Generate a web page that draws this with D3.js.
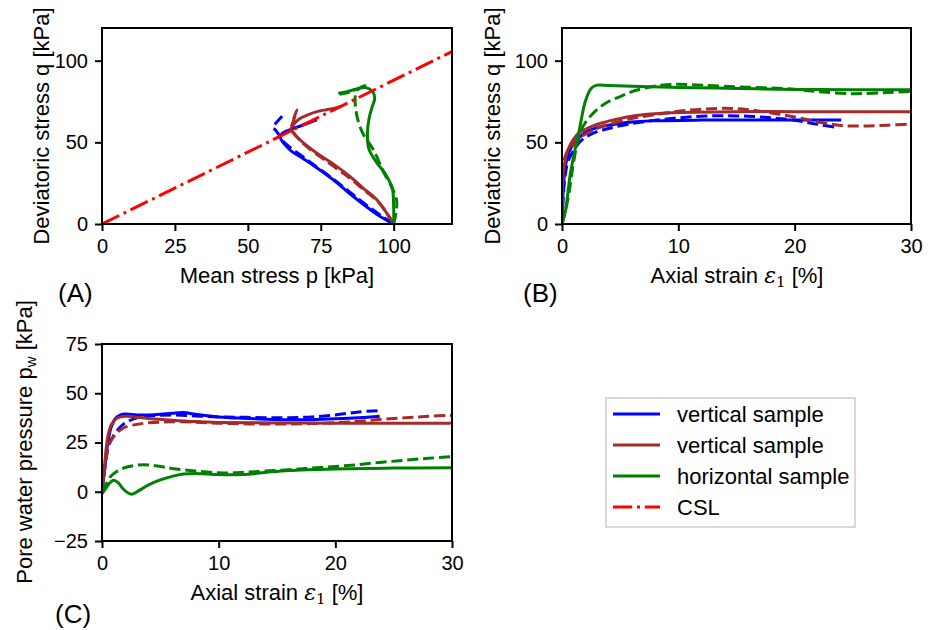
<!DOCTYPE html>
<html>
<head>
<meta charset="utf-8">
<script src="https://cdn.jsdelivr.net/npm/d3@7"></script>
<style>
body { margin: 0; background: #fff; }
svg text { font-family: "Liberation Sans", Arial, Helvetica, sans-serif; fill: #000; }
</style>
</head>
<body>
<svg id="chart" width="938" height="630"></svg>
<script>

// ---- panel A : stress paths, mean stress p vs deviatoric stress q [kPa]
var cslP = [0, 120];
var cslQ = [0, 105.6];

var aBlueP     = [100, 95, 90, 85, 79.4, 74, 68, 65, 63.4, 61.8, 61.1, 61.8, 63.4, 66, 68, 71, 73.7];
var aBlueQ     = [0, 5, 11.5, 18.5, 26.9, 34, 41.2, 44.5, 47.3, 50.5, 53.5, 55.5, 57, 58.8, 60, 62, 63.7];
var aBlueDashP = [100, 95, 90, 85, 80, 74, 69, 65.5, 63, 61.5, 60.5, 59.5, 58.6, 60, 61.5, 62.2];
var aBlueDashQ = [0, 6, 12.5, 19.5, 26.5, 34.5, 41, 45.5, 49, 52, 55, 57.5, 59.2, 62.5, 65.5, 67.4];
var aBrownP     = [100, 94.3, 89.5, 85.1, 79.5, 73.7, 69.5, 65.7, 64.8, 66, 68, 70.5, 73.7, 77, 79.4, 82];
var aBrownQ     = [0, 14.7, 22, 29, 36.5, 43.3, 49, 55.5, 58, 61.5, 64.7, 66.8, 68.8, 70, 70.8, 72];
var aBrownDashP = [100, 95, 90, 85, 80, 75, 70.5, 67.5, 65.5, 65, 65.5, 66.2, 66.8, 66, 65.2];
var aBrownDashQ = [0, 13, 20.5, 28, 34.5, 41, 47, 52, 56.5, 59.5, 62.5, 66, 69.8, 66, 62];
var aGreenP     = [100, 100, 99.5, 97, 94, 91.5, 91, 91.5, 92.5, 93.5, 92.8, 90.5, 87, 84, 81];
var aGreenQ     = [0, 10, 22, 31, 38, 46, 55, 64, 71, 77, 81, 83.5, 82.5, 81, 80];
var aGreenDashP = [100, 100.8, 101, 99.5, 96.5, 93.1, 89.9, 88, 86.9, 86.9, 87.5, 89, 91, 88, 84.5, 81.5];
var aGreenDashQ = [0, 7, 14.7, 22, 32, 45.3, 53.9, 62, 71.8, 79, 82, 84, 85, 83, 80.5, 79.5];

// ---- panel B : axial strain [%] vs deviatoric stress q [kPa]
var bBlueE     = [0, 0.1, 0.3, 0.6, 1, 1.5, 2, 3, 4, 6, 8, 12, 16, 20, 24];
var bBlueQ     = [0, 20, 36, 44, 49, 53, 56, 59, 60.5, 62.5, 63.2, 63.6, 63.7, 63.7, 63.7];
var bBlueDashE = [0, 0.2, 0.5, 1, 1.5, 2, 3, 4, 6, 8, 10, 12, 14, 16, 18, 20, 22, 23.8];
var bBlueDashQ = [0, 25, 38, 45, 50, 53, 56.5, 58.5, 61.5, 63.5, 65, 66, 66.3, 66, 65, 63.5, 61, 59];
var bBrownE     = [0, 0.1, 0.3, 0.6, 1, 1.5, 2, 3, 4, 6, 8, 10, 15, 20, 25, 30];
var bBrownQ     = [0, 30, 40, 47, 52, 56, 58, 61, 63, 66, 67.5, 68.3, 68.8, 68.8, 68.8, 68.8];
var bBrownDashE = [0, 0.1, 0.3, 0.6, 1, 1.5, 2, 3, 4, 6, 8, 10, 12, 14, 16, 18, 20, 22, 24, 26, 28, 30];
var bBrownDashQ = [0, 35, 42, 46, 49, 53, 55, 58.5, 61, 64.5, 67, 69, 70.3, 70.8, 70, 68, 65.5, 62.5, 60.3, 60, 60.5, 61.2];
var bGreenE     = [0, 0.3, 0.7, 1.1, 1.5, 2, 2.5, 3, 4, 6, 10, 15, 20, 25, 30];
var bGreenQ     = [0, 8, 30, 45, 58, 75, 83, 85, 84.8, 84.3, 83.6, 83, 82.4, 82.2, 82.2];
var bGreenDashE = [0, 0.5, 1, 1.5, 2, 3, 4, 5, 6, 7, 8, 9, 10, 12, 15, 18, 20, 22, 25, 28, 30];
var bGreenDashQ = [0, 15, 38, 55, 62, 70, 75, 78, 81, 83, 84.5, 85.3, 85.5, 85, 84, 83.2, 82.5, 81, 79.8, 80.5, 81.2];

// ---- panel C : axial strain [%] vs pore water pressure pw [kPa]
var cBlueE      = [0, 0.2, 0.5, 0.8, 1.2, 1.6, 2, 3, 4, 5, 6, 7, 8, 10, 12, 14, 16, 18, 20, 22, 23.8];
var cBluePw     = [0, 10, 25, 33, 37.5, 39, 39.5, 39, 39, 39.3, 39.8, 40.2, 39.3, 38, 37.3, 36.8, 36.5, 36.6, 37, 37.6, 38.3];
var cBlueDashE  = [0, 0.3, 0.6, 1, 1.5, 2, 3, 4, 6, 8, 10, 12, 14, 16, 18, 20, 22, 23.8];
var cBlueDashPw = [0, 15, 24, 28.5, 32.5, 35, 37.5, 38.5, 39, 38.5, 38, 37.8, 37.6, 37.6, 38, 39, 40.5, 41.2];
var cBrownE      = [0, 0.2, 0.5, 0.8, 1.2, 1.6, 2, 2.5, 3, 4, 6, 8, 10, 15, 20, 25, 30];
var cBrownPw     = [0, 12, 28, 34, 37, 38, 38.3, 38.2, 37.8, 37.2, 36.3, 35.6, 35.2, 34.9, 34.8, 34.8, 34.8];
var cBrownDashE  = [0, 0.3, 0.6, 1, 1.5, 2, 3, 4, 6, 8, 10, 12, 14, 16, 18, 20, 22, 24, 26, 28, 30];
var cBrownDashPw = [0, 14, 24, 28, 31, 32.8, 34.2, 35, 35.5, 35.3, 34.8, 34.5, 34.4, 34.4, 34.6, 35, 35.8, 36.8, 37.6, 38.3, 38.8];
var cGreenE      = [0, 0.3, 0.6, 1, 1.4, 1.8, 2.2, 2.6, 3, 4, 5, 6, 7, 8, 10, 12, 14, 16, 20, 25, 30];
var cGreenPw     = [-1, 1.5, 4, 5.8, 4.5, 1.5, -0.5, -1.2, 0, 3.5, 6, 7.8, 9, 9.3, 8.7, 8.7, 9.8, 10.8, 11.6, 12, 12.2];
var cGreenDashE  = [0, 0.3, 0.7, 1.2, 2, 3, 4, 5, 6, 8, 10, 12, 14, 16, 18, 20, 22, 24, 26, 28, 30];
var cGreenDashPw = [0, 3, 7.5, 10, 12.3, 13.5, 13.6, 12.8, 11.8, 10.5, 9.6, 9.8, 10.5, 11.2, 12, 12.8, 13.8, 15, 16, 17, 17.8];

// ticks
var ticksAx = [0, 25, 50, 75, 100];
var ticksQ  = [0, 50, 100];
var ticksE  = [0, 10, 20, 30];
var ticksPw = [-25, 0, 25, 50, 75];

var legendLabels = ["vertical sample", "vertical sample", "horizontal sample", "CSL"];
var legendColors = ["blue", "brown", "green", "red"];

var LW = 3;
var DASH = "11.1,4.8";
var DASHDOT = "19.2,4.8,3,4.8";

var svg = d3.select("#chart");

var mk = function(xs, ys, color, style) {
	return {pts: d3.zip(xs, ys), color: color, style: style};
};

var panel = function(id, box, xdom, ydom, xticks, yticks, series) {
	var x = d3.scaleLinear().domain(xdom).range([box.left, box.right]);
	var y = d3.scaleLinear().domain(ydom).range([box.bottom, box.top]);

	svg.append("clipPath").attr("id", "clip" + id)
		.append("rect")
			.attr("x", box.left).attr("y", box.top)
			.attr("width", box.right - box.left).attr("height", box.bottom - box.top);

	var line = d3.line()
		.x(function(d) { return x(d[0]); })
		.y(function(d) { return y(d[1]); })
		.curve(d3.curveCatmullRom.alpha(0.5));

	var g = svg.append("g").attr("clip-path", "url(#clip" + id + ")");
	g.selectAll("path")
		.data(series)
	.enter().append("path")
		.attr("d", function(d) { return line(d.pts); })
		.attr("fill", "none")
		.attr("stroke", function(d) { return d.color; })
		.attr("stroke-width", LW)
		.attr("stroke-linejoin", "round")
		.attr("stroke-dasharray", function(d) { return d.style === "dash" ? DASH : (d.style === "dashdot" ? DASHDOT : null); });

	var fmt = function(v) { return v < 0 ? "\u2212" + Math.abs(v) : "" + v; };

	var xa = svg.append("g")
		.attr("transform", "translate(0," + box.bottom + ")")
		.call(d3.axisBottom(x).tickValues(xticks).tickFormat(fmt).tickSize(7).tickSizeOuter(0).tickPadding(8));
	var ya = svg.append("g")
		.attr("transform", "translate(" + box.left + ",0)")
		.call(d3.axisLeft(y).tickValues(yticks).tickFormat(fmt).tickSize(7).tickSizeOuter(0).tickPadding(7));

	[xa, ya].forEach(function(a) {
		a.attr("font-family", null).attr("font-size", null);
		a.select(".domain").remove();
		a.selectAll(".tick line").attr("stroke", "#000").attr("stroke-width", 2);
		a.selectAll(".tick text").style("font-size", "20px").attr("fill", "#000");
	});

	svg.append("rect")
		.attr("x", box.left).attr("y", box.top)
		.attr("width", box.right - box.left).attr("height", box.bottom - box.top)
		.attr("fill", "none").attr("stroke", "#000").attr("stroke-width", 2);
};

var boxA = {left: 102, right: 452, top: 28, bottom: 224};
var boxB = {left: 562, right: 911, top: 28, bottom: 224};
var boxC = {left: 102, right: 452, top: 344, bottom: 541};

panel("A", boxA, [0, 120], [0, 120], ticksAx, ticksQ, [
	mk(aBlueP, aBlueQ, "blue", "solid"),
	mk(aBlueDashP, aBlueDashQ, "blue", "dash"),
	mk(aBrownP, aBrownQ, "brown", "solid"),
	mk(aBrownDashP, aBrownDashQ, "brown", "dash"),
	mk(aGreenP, aGreenQ, "green", "solid"),
	mk(aGreenDashP, aGreenDashQ, "green", "dash"),
	mk(cslP, cslQ, "red", "dashdot")
]);

panel("B", boxB, [0, 30], [0, 120], ticksE, ticksQ, [
	mk(bBlueE, bBlueQ, "blue", "solid"),
	mk(bBlueDashE, bBlueDashQ, "blue", "dash"),
	mk(bBrownE, bBrownQ, "brown", "solid"),
	mk(bBrownDashE, bBrownDashQ, "brown", "dash"),
	mk(bGreenE, bGreenQ, "green", "solid"),
	mk(bGreenDashE, bGreenDashQ, "green", "dash")
]);

panel("C", boxC, [0, 30], [-25, 75], ticksE, ticksPw, [
	mk(cBlueE, cBluePw, "blue", "solid"),
	mk(cBlueDashE, cBlueDashPw, "blue", "dash"),
	mk(cBrownE, cBrownPw, "brown", "solid"),
	mk(cBrownDashE, cBrownDashPw, "brown", "dash"),
	mk(cGreenE, cGreenPw, "green", "solid"),
	mk(cGreenDashE, cGreenDashPw, "green", "dash")
]);

// axis labels
var label = function(x, y, rot) {
	var t = svg.append("text")
		.attr("text-anchor", "middle")
		.style("font-size", "22px")
		.attr("transform", "translate(" + x + "," + y + ")" + (rot ? " rotate(-90)" : ""));
	return t;
};

label(277, 283).text("Mean stress p [kPa]");
label(49, 126, true).text("Deviatoric stress q [kPa]");
label(500, 126, true).text("Deviatoric stress q [kPa]");

var strainLabel = function(x, y) {
	var t = label(x, y);
	t.append("tspan").text("Axial strain ");
	t.append("tspan").text("\u03b5").style("font-family", "'DejaVu Serif', serif").style("font-style", "italic");
	t.append("tspan").text("1").style("font-family", "'DejaVu Serif', serif").style("font-size", "15px").attr("dy", 4);
	t.append("tspan").text(" [%]").attr("dy", -4);
};
strainLabel(737, 283);
strainLabel(277, 600);

var pwl = label(32, 442, true);
pwl.append("tspan").text("Pore water pressure p");
pwl.append("tspan").text("w").style("font-size", "15px").attr("dy", 4);
pwl.append("tspan").text("  [kPa]").attr("dy", -4);

// panel letters
svg.append("text").attr("x", 58).attr("y", 302).style("font-size", "26px").text("(A)");
svg.append("text").attr("x", 523).attr("y", 302).style("font-size", "26px").text("(B)");
svg.append("text").attr("x", 55).attr("y", 623).style("font-size", "26px").text("(C)");

// legend
var leg = svg.append("g");
leg.append("rect")
	.attr("x", 606).attr("y", 398).attr("width", 249).attr("height", 129)
	.attr("fill", "#fff").attr("stroke", "#d9d9d9").attr("stroke-width", 2);

var rows = leg.selectAll("g.row")
	.data(legendLabels)
.enter().append("g")
	.attr("class", "row")
	.attr("transform", function(d, i) { return "translate(0," + [414, 445, 476, 507][i] + ")"; });

rows.append("line")
	.attr("x1", 613).attr("x2", 660)
	.attr("stroke", function(d, i) { return legendColors[i]; })
	.attr("stroke-width", LW)
	.attr("stroke-dasharray", function(d, i) { return i === 3 ? DASHDOT : null; });

rows.append("text")
	.attr("x", 677).attr("y", 8)
	.style("font-size", "22px")
	.text(function(d) { return d; });

</script>
</body>
</html>
